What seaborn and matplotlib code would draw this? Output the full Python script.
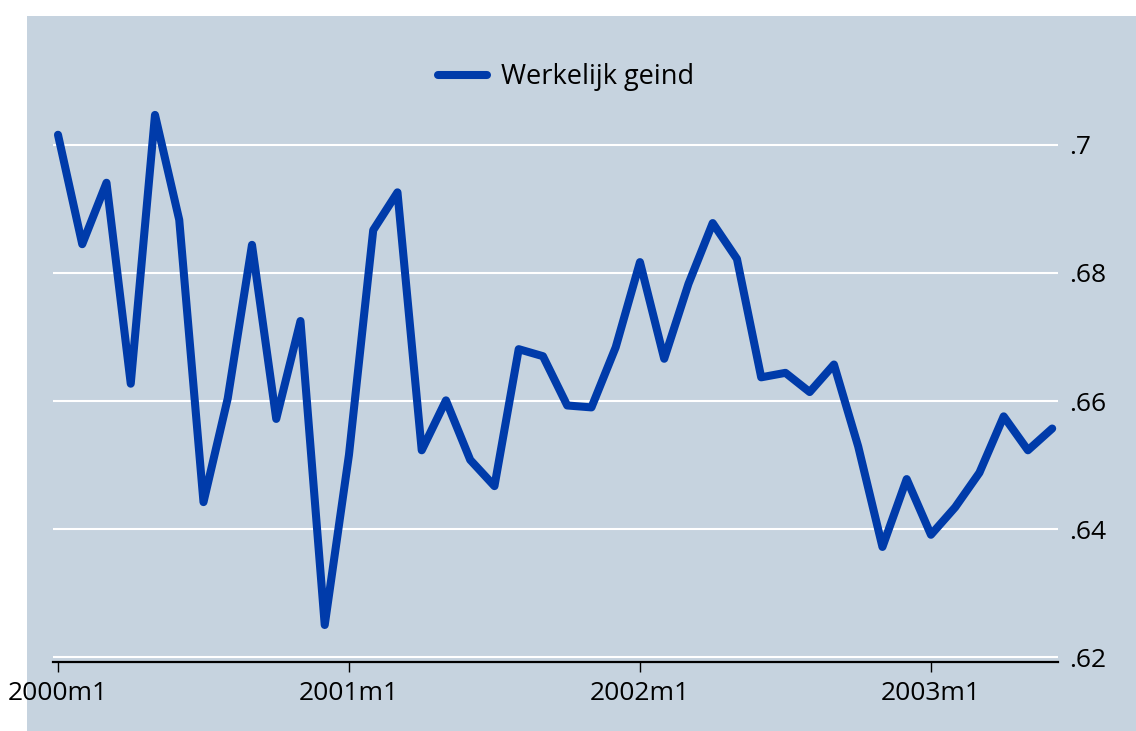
import numpy as np
import pandas as pd
import matplotlib
matplotlib.use("Agg")
import matplotlib.pyplot as plt
import seaborn as sns

# monthly series 2000m1 .. 2003m6
months = list(range(42))
werkelijk_geind = [
    0.7016, 0.6845, 0.6941, 0.6627, 0.7047, 0.6883, 0.6442, 0.6604,
    0.6844, 0.6572, 0.6725, 0.6250, 0.6516, 0.6867, 0.6926, 0.6523,
    0.6601, 0.6508, 0.6467, 0.6681, 0.6670, 0.6593, 0.6590, 0.6684,
    0.6817, 0.6666, 0.6783, 0.6878, 0.6822, 0.6637, 0.6644, 0.6614,
    0.6657, 0.6529, 0.6372, 0.6478, 0.6391, 0.6434, 0.6488, 0.6576,
    0.6523, 0.6557,
]
tick_pos = [0, 12, 24, 36]
tick_labels = ["2000m1", "2001m1", "2002m1", "2003m1"]
y_ticks = [0.62, 0.64, 0.66, 0.68, 0.70]
y_labels = [".62", ".64", ".66", ".68", ".7"]

df = pd.DataFrame({"maand": months, "waarde": werkelijk_geind})

bg = "#C6D3DF"
line_color = "#003BAA"

sns.set_style("white")
plt.rcParams["font.family"] = ["Open Sans", "DejaVu Sans"]
plt.rcParams["text.color"] = "black"

W, H = 1136, 731
fig = plt.figure(figsize=(W / 100, H / 100), dpi=100, facecolor="white")

# grey graph region (white margin on top and left)
fig.patches.append(plt.Rectangle((27 / W, 0), 1 - 27 / W, 1 - 16 / H,
                                 transform=fig.transFigure, facecolor=bg,
                                 edgecolor="none", zorder=-5))

ax = fig.add_axes([53 / W, (H - 662) / H, (1058 - 53) / W, (662 - 100) / H])
ax.set_zorder(2)
ax.set_facecolor(bg)

sns.lineplot(data=df, x="maand", y="waarde", ax=ax, color=line_color,
             linewidth=5.8, label="Werkelijk geind", legend=False,
             solid_capstyle="round", solid_joinstyle="round", zorder=3)

ax.set_xlim(-0.206, 41.24)
ax.set_ylim(0.61922, 0.70703)

ax.set_yticks(y_ticks)
ax.set_yticklabels(y_labels)
ax.yaxis.tick_right()
ax.tick_params(axis="y", length=0, pad=8, labelsize=19, colors="black")
ax.grid(axis="y", color="white", linewidth=1.5)
ax.grid(axis="x", visible=False)

ax.set_xticks(tick_pos)
ax.set_xticklabels(tick_labels)
ax.tick_params(axis="x", length=7, width=1, pad=7, labelsize=19,
               colors="black", direction="out", bottom=True)

for side in ["top", "left", "right"]:
    ax.spines[side].set_visible(False)
ax.spines["bottom"].set_color("black")
ax.spines["bottom"].set_linewidth(1.6)

ax.set_xlabel("")
ax.set_ylabel("")

handles, labels = ax.get_legend_handles_labels()
leg = fig.legend(handles, labels, loc="center", bbox_to_anchor=(566 / W, 1 - 77 / H),
                 frameon=False, fontsize=19.5, handlelength=1.8, handletextpad=0.5)
for t in leg.get_texts():
    t.set_color("black")

fig.savefig("out.png", dpi=100, facecolor="white")
